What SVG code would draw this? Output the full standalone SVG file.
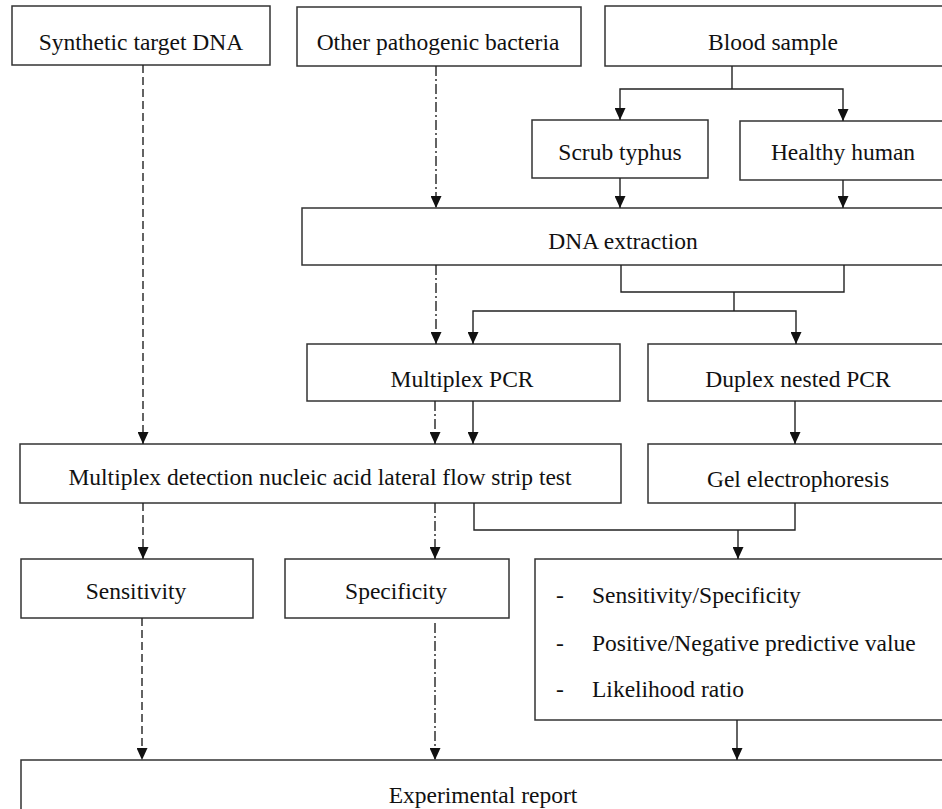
<svg xmlns="http://www.w3.org/2000/svg" width="942" height="809" viewBox="0 0 942 809">
<style>
.box{fill:#fff;stroke:#333;stroke-width:1.5}
.t{font-family:"Liberation Serif","Times New Roman",serif;font-size:23.5px;fill:#111;text-anchor:middle}
.tl{font-family:"Liberation Serif","Times New Roman",serif;font-size:23.5px;fill:#111}
.c{fill:none;stroke:#222;stroke-width:1.4}
.dash{stroke-dasharray:8 4}
.dd{stroke-dasharray:10 3 2 3}
</style>
<defs>
<marker id="ah" markerWidth="12" markerHeight="11" refX="12" refY="5.5" orient="auto" markerUnits="userSpaceOnUse" viewBox="0 0 12 11">
<path d="M0,0 L12,5.5 L0,11 Z" fill="#111"/>
</marker>
</defs>
<rect width="942" height="809" fill="#fff"/>
<g id="n-synthetic"><rect class="box" x="12" y="6" width="258" height="59"/><text class="t" x="141" y="50">Synthetic target DNA</text></g>
<g id="n-other"><rect class="box" x="297" y="7" width="284" height="59"/><text class="t" x="438" y="50">Other pathogenic bacteria</text></g>
<g id="n-blood"><rect class="box" x="605" y="6" width="360" height="60"/><text class="t" x="773" y="50">Blood sample</text></g>
<g id="n-scrub"><rect class="box" x="532" y="120" width="176" height="58"/><text class="t" x="620" y="160">Scrub typhus</text></g>
<g id="n-healthy"><rect class="box" x="740" y="121" width="230" height="59"/><text class="t" x="843" y="160">Healthy human</text></g>
<g id="n-dna"><rect class="box" x="302" y="208" width="660" height="57"/><text class="t" x="623" y="249">DNA extraction</text></g>
<g id="n-mpcr"><rect class="box" x="307" y="344" width="313" height="57"/><text class="t" x="462" y="387">Multiplex PCR</text></g>
<g id="n-dpcr"><rect class="box" x="648" y="344" width="320" height="57"/><text class="t" x="798" y="387">Duplex nested PCR</text></g>
<g id="n-strip"><rect class="box" x="20" y="444" width="601" height="59"/><text class="t" x="320" y="485">Multiplex detection nucleic acid lateral flow strip test</text></g>
<g id="n-gel"><rect class="box" x="648" y="444" width="320" height="59"/><text class="t" x="798" y="487">Gel electrophoresis</text></g>
<g id="n-sens"><rect class="box" x="21" y="559" width="232" height="59"/><text class="t" x="136" y="599">Sensitivity</text></g>
<g id="n-spec"><rect class="box" x="285" y="559" width="224" height="59"/><text class="t" x="396" y="599">Specificity</text></g>
<g id="n-stats"><rect class="box" x="535" y="559" width="430" height="161"/>
<text class="tl" x="556" y="603">-</text><text class="tl" x="592" y="603">Sensitivity/Specificity</text>
<text class="tl" x="556" y="651">-</text><text class="tl" x="592" y="651">Positive/Negative predictive value</text>
<text class="tl" x="556" y="697">-</text><text class="tl" x="592" y="697">Likelihood ratio</text></g>
<g id="n-report"><rect class="box" x="21" y="760" width="950" height="80"/><text class="t" x="483" y="803">Experimental report</text></g>
<g id="connectors">
<path class="c dash" d="M143,65 V444" marker-end="url(#ah)"/>
<path class="c dd" d="M436,66 V208" marker-end="url(#ah)"/>
<path class="c dd" d="M436,265 V344" marker-end="url(#ah)"/>
<path class="c dd" d="M435,401 V444" marker-end="url(#ah)"/>
<path class="c dash" d="M143,503 V559" marker-end="url(#ah)"/>
<path class="c dd" d="M435,503 V559" marker-end="url(#ah)"/>
<path class="c dash" d="M142,618 V760" marker-end="url(#ah)"/>
<path class="c dd" d="M435,623 V760" marker-end="url(#ah)"/>
<path class="c" d="M732,66 V89"/>
<path class="c" d="M732,89 H620 V120" marker-end="url(#ah)"/>
<path class="c" d="M732,89 H843 V121" marker-end="url(#ah)"/>
<path class="c" d="M620,178 V208" marker-end="url(#ah)"/>
<path class="c" d="M843,180 V208" marker-end="url(#ah)"/>
<path class="c" d="M621,265 V292 H844 V265"/>
<path class="c" d="M734,292 V311"/>
<path class="c" d="M734,311 H473 V344" marker-end="url(#ah)"/>
<path class="c" d="M734,311 H796 V344" marker-end="url(#ah)"/>
<path class="c" d="M473,401 V444" marker-end="url(#ah)"/>
<path class="c" d="M795,401 V444" marker-end="url(#ah)"/>
<path class="c" d="M474,503 V530 H795 V503"/>
<path class="c" d="M738,530 V559" marker-end="url(#ah)"/>
<path class="c" d="M737,720 V760" marker-end="url(#ah)"/>
</g>
</svg>
